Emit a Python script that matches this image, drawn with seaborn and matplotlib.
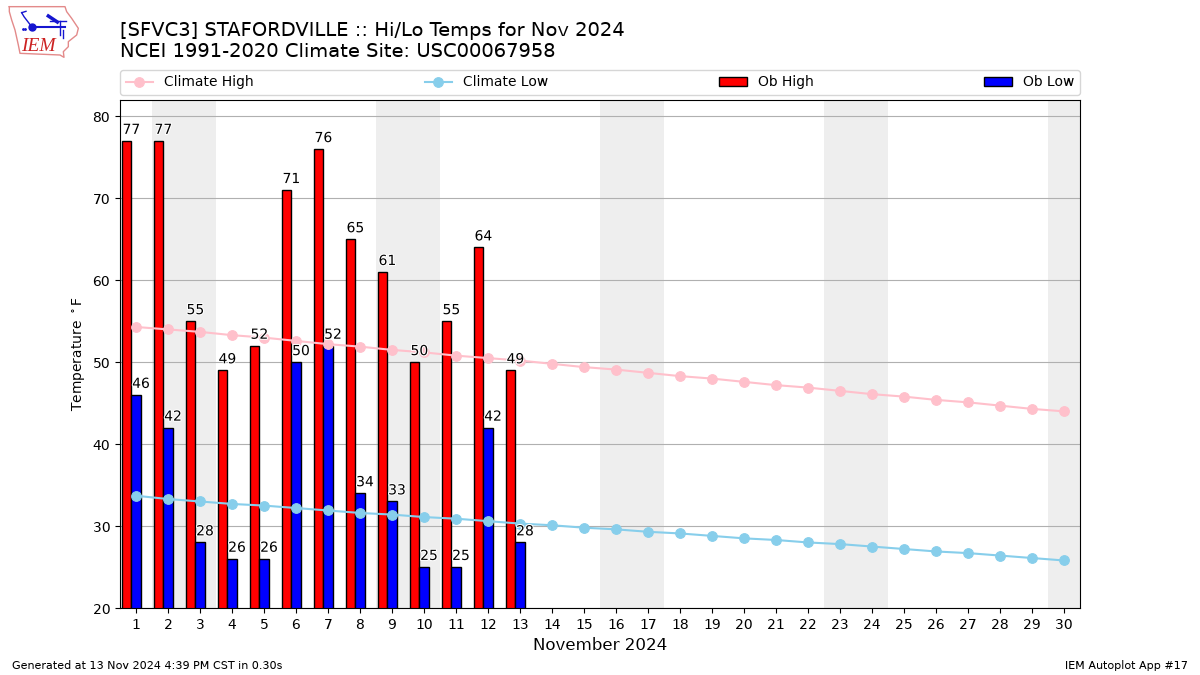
import numpy as np
import pandas as pd
import matplotlib
matplotlib.use("Agg")
import matplotlib.pyplot as plt
import matplotlib.patheffects as pe
import seaborn as sns

plt.rcParams["text.hinting"] = "default"

days = list(range(1, 31))
ob_days = list(range(1, 14))
climate_high = [54.3, 54.0, 53.7, 53.3, 53.0, 52.6, 52.2, 51.9, 51.5, 51.2,
                50.8, 50.5, 50.2, 49.8, 49.4, 49.1, 48.7, 48.3, 48.0, 47.6,
                47.2, 46.9, 46.5, 46.1, 45.8, 45.4, 45.1, 44.7, 44.3, 44.0]
climate_low = [33.7, 33.3, 33.0, 32.7, 32.5, 32.2, 31.9, 31.6, 31.4, 31.1,
               30.9, 30.6, 30.3, 30.1, 29.8, 29.6, 29.3, 29.1, 28.8, 28.5,
               28.3, 28.0, 27.8, 27.5, 27.2, 26.9, 26.7, 26.4, 26.1, 25.8]
ob_high = [77, 77, 55, 49, 52, 71, 76, 65, 61, 50, 55, 64, 49]
ob_low = [46, 42, 28, 26, 26, 50, 52, 34, 33, 25, 25, 42, 28]
weekend_spans = [(2, 3), (9, 10), (16, 17), (23, 24), (30, 30)]

fig = plt.figure(figsize=(12, 6.75), dpi=100)
ax = fig.add_axes([0.1, 1 - 608 / 675, 0.8, 508 / 675])

for start, end in weekend_spans:
    ax.axvspan(start - 0.5, end + 0.5, color="#eeeeee", lw=0, zorder=0)

obs = pd.DataFrame({"day": ob_days, "high": ob_high, "low": ob_low})
obs["high_x"] = obs["day"] - 0.3
clim = pd.DataFrame({"day": days, "high": climate_high, "low": climate_low})

sns.barplot(data=obs, x="high_x", y="high", native_scale=True, width=0.3,
            color="red", saturation=1, edgecolor="black", linewidth=1,
            label="Ob High", ax=ax, zorder=2)
sns.barplot(data=obs, x="day", y="low", native_scale=True, width=0.3,
            color="blue", saturation=1, edgecolor="black", linewidth=1,
            label="Ob Low", ax=ax, zorder=2)
sns.lineplot(data=clim, x="day", y="high", color="pink", lw=1.5, marker="o",
             markersize=7, markeredgecolor="pink", errorbar=None,
             label="Climate High", ax=ax, zorder=3)
sns.lineplot(data=clim, x="day", y="low", color="skyblue", lw=1.5, marker="o",
             markersize=7, markeredgecolor="skyblue", errorbar=None,
             label="Climate Low", ax=ax, zorder=3)

stroke = [pe.withStroke(linewidth=1.5, foreground="white")]
for d, hi, lo in zip(ob_days, ob_high, ob_low):
    ax.text(d - 0.42, hi + 0.5, str(hi), ha="left", va="bottom", fontsize=10,
            path_effects=stroke, zorder=4)
    ax.text(d - 0.12, lo + 0.5, str(lo), ha="left", va="bottom", fontsize=10,
            path_effects=stroke, zorder=4)

ax.set_xlim(0.5, 30.5)
ax.set_ylim(20, 82)
ax.set_xticks(days)
ax.set_xticklabels([str(d) for d in days])
ax.set_yticks(range(20, 81, 10))
ax.set_axisbelow(True)
ax.yaxis.grid(True)
ax.xaxis.grid(False)
ax.set_ylabel(r"Temperature $^\circ$F")
ax.set_xlabel("November 2024", fontsize=12)

handles, labels = ax.get_legend_handles_labels()
by_label = dict(zip(labels, handles))
order = ["Climate High", "Climate Low", "Ob High", "Ob Low"]
ax.legend([by_label[k] for k in order], order, loc="lower left", ncol=4,
          mode="expand", bbox_to_anchor=(0, 1.01, 1, 0.05), borderaxespad=0)

fig.text(0.1, 1 - 61 / 675, "[SFVC3] STAFORDVILLE :: Hi/Lo Temps for Nov 2024\n"
         "NCEI 1991-2020 Climate Site: USC00067958", fontsize=14, ha="left",
         va="bottom", linespacing=1.22)
fig.text(0.01, 1 - 671 / 675, "Generated at 13 Nov 2024 4:39 PM CST in 0.30s",
         fontsize=8, ha="left", va="bottom")
fig.text(0.99, 1 - 671 / 675, "IEM Autoplot App #17", fontsize=8, ha="right",
         va="bottom")

# Logo decoration, drawn in its own axes
logo = fig.add_axes([0, 1 - 65 / 675, 100 / 1200, 65 / 675])
logo.set_xlim(0, 300)
logo.set_ylim(195, 0)
logo.axis("off")
ox = [28, 195, 200, 215, 235, 230, 205, 205, 190, 192, 180, 60, 55, 45, 35, 28, 28]
oy = [20, 20, 35, 55, 85, 105, 125, 140, 155, 172, 165, 160, 135, 90, 60, 35, 20]
logo.plot(ox, oy, color="#e38a8a", lw=1)
logo.plot([95, 195], [80, 80], color="#1515d0", lw=1.5)
logo.plot([95, 72, 65], [80, 50, 38], color="#1515d0", lw=1)
logo.plot([65, 78], [38, 34], color="#1515d0", lw=1)
logo.plot([95], [80], "o", color="#1515d0", ms=5)
logo.plot([145, 172], [48, 66], color="#1515d0", lw=2.5)
logo.plot([150, 198], [63, 63], color="#1515d0", lw=1)
logo.plot([180, 180], [63, 105], color="#1515d0", lw=1)
logo.plot([188, 188], [90, 115], color="#1515d0", lw=1)
logo.plot([70, 76], [86, 86], ".", color="#1515d0", ms=2)
logo.text(64, 152, "IEM", color="#cc2222", fontsize=14, style="italic",
          family="Liberation Serif", ha="left", va="baseline")

fig.savefig("out.png", dpi=100)
